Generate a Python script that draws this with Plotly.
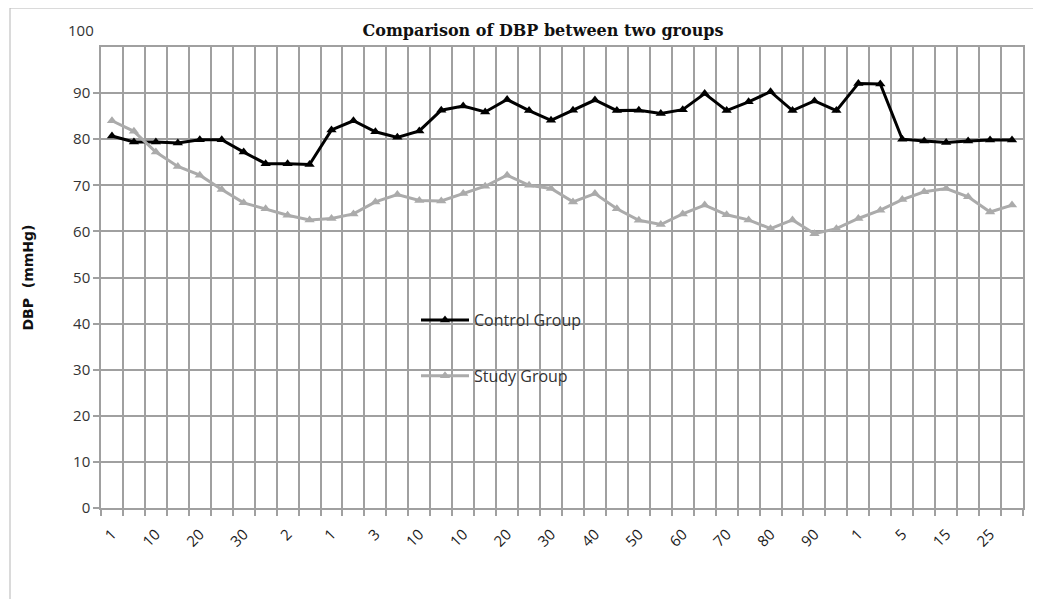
import plotly.graph_objects as go

# 42 measurement points; every other one carries a tick label
tick_labels = ["1", "10", "20", "30", "2", "1", "3", "10", "10", "20", "30",
               "40", "50", "60", "70", "80", "90", "1", "5", "15", "25"]

control_group = [80.7, 79.4, 79.4, 79.2, 79.9, 79.9, 77.2, 74.7, 74.7, 74.5,
                 82.0, 84.0, 81.6, 80.4, 81.8, 86.3, 87.2, 85.9, 88.6, 86.2,
                 84.1, 86.3, 88.5, 86.2, 86.3, 85.6, 86.4, 89.9, 86.2, 88.1,
                 90.3, 86.2, 88.3, 86.2, 92.1, 92.0, 80.0, 79.6, 79.3, 79.6,
                 79.8, 79.8]

study_group = [84.0, 81.7, 77.2, 74.1, 72.2, 69.1, 66.2, 64.9, 63.5, 62.5,
               62.8, 63.8, 66.4, 68.0, 66.7, 66.6, 68.2, 69.8, 72.2, 70.0,
               69.3, 66.4, 68.2, 64.9, 62.4, 61.5, 63.8, 65.7, 63.6, 62.5,
               60.6, 62.5, 59.5, 60.6, 62.8, 64.6, 66.9, 68.6, 69.3, 67.5,
               64.2, 65.7]

y_ticks = [0, 10, 20, 30, 40, 50, 60, 70, 80, 90]

n = len(control_group)
x_idx = list(range(n))
label_pos = x_idx[::2][:len(tick_labels)]
boundaries = [i - 0.5 for i in range(n + 1)]

OFF = 8  # page body margin
W, H = 1041 - OFF, 599 - OFF
L, R, T, B = 101 - OFF, 1023 - OFF, 47 - OFF, 508 - OFF


def px(p):
    return (p - OFF - L) / (R - L)


def py(q):
    return (B - (q - OFF)) / (B - T)


fig = go.Figure()
fig.add_trace(go.Scatter(
    x=x_idx, y=control_group, name="Control Group", mode="lines+markers",
    line=dict(color="#000000", width=3),
    marker=dict(symbol="triangle-up", size=9, color="#000000"),
    legendgroup="c"))
fig.add_trace(go.Scatter(
    x=x_idx, y=study_group, name="Study Group", mode="lines+markers",
    line=dict(color="#ababab", width=3),
    marker=dict(symbol="triangle-up", size=9, color="#ababab"),
    legendgroup="s"))

grid_c = "#a0a0a0"
fig.update_xaxes(
    range=[-0.5, n - 0.5], tickmode="array", tickvals=label_pos,
    ticktext=tick_labels, tickangle=-45, showgrid=False, ticks="",
    ticklabelstandoff=10,
    tickfont=dict(family="Open Sans", size=15, color="#1a1a1a"),
    showline=True, linecolor=grid_c, linewidth=1.5, mirror=True,
    zeroline=False,
    minor=dict(tickmode="array", tickvals=boundaries, showgrid=True,
               gridcolor=grid_c, gridwidth=1.5, ticks="outside",
               ticklen=6, tickcolor=grid_c, tickwidth=1.5))
fig.update_yaxes(
    range=[0, 100], tickmode="array", tickvals=y_ticks,
    showgrid=True, gridcolor=grid_c, gridwidth=1.5,
    ticks="outside", ticklen=6, tickcolor=grid_c, tickwidth=1.5,
    tickfont=dict(family="Open Sans", size=15, color="#333333"),
    showline=True, linecolor=grid_c, linewidth=1.5, mirror=True,
    zeroline=False,
    title=dict(text="<b>DBP  (mmHg)</b>", standoff=36,
               font=dict(family="DejaVu Sans", size=14, color="#111111")))

fig.add_annotation(text="100", xref="paper", yref="paper",
                   x=px(96), y=py(30),
                   xanchor="right", yanchor="middle", showarrow=False,
                   font=dict(family="Open Sans", size=15, color="#333333"))

fig.add_shape(type="rect", xref="paper", yref="paper",
              x0=px(10), x1=px(1060), y0=py(620), y1=py(8),
              line=dict(color="#b5b5b5", width=1), layer="below")

fig.update_layout(
    width=W, height=H,
    margin=dict(l=L, r=W - R, t=T, b=H - B),
    paper_bgcolor="white", plot_bgcolor="white",
    title=dict(text="<b>Comparison of DBP between two groups</b>",
               x=(543 - OFF) / W, xref="container", xanchor="center",
               y=1 - (30 - OFF) / H, yref="container", yanchor="middle",
               font=dict(family="DejaVu Serif", size=16, color="#111111")),
    legend=dict(x=px(416), y=py(303),
                xanchor="left", yanchor="top", bgcolor="rgba(0,0,0,0)",
                traceorder="grouped", tracegroupgap=32, itemwidth=48,
                font=dict(family="Open Sans", size=16, color="#333333")),
    showlegend=True,
)

fig.write_html("out.html")
